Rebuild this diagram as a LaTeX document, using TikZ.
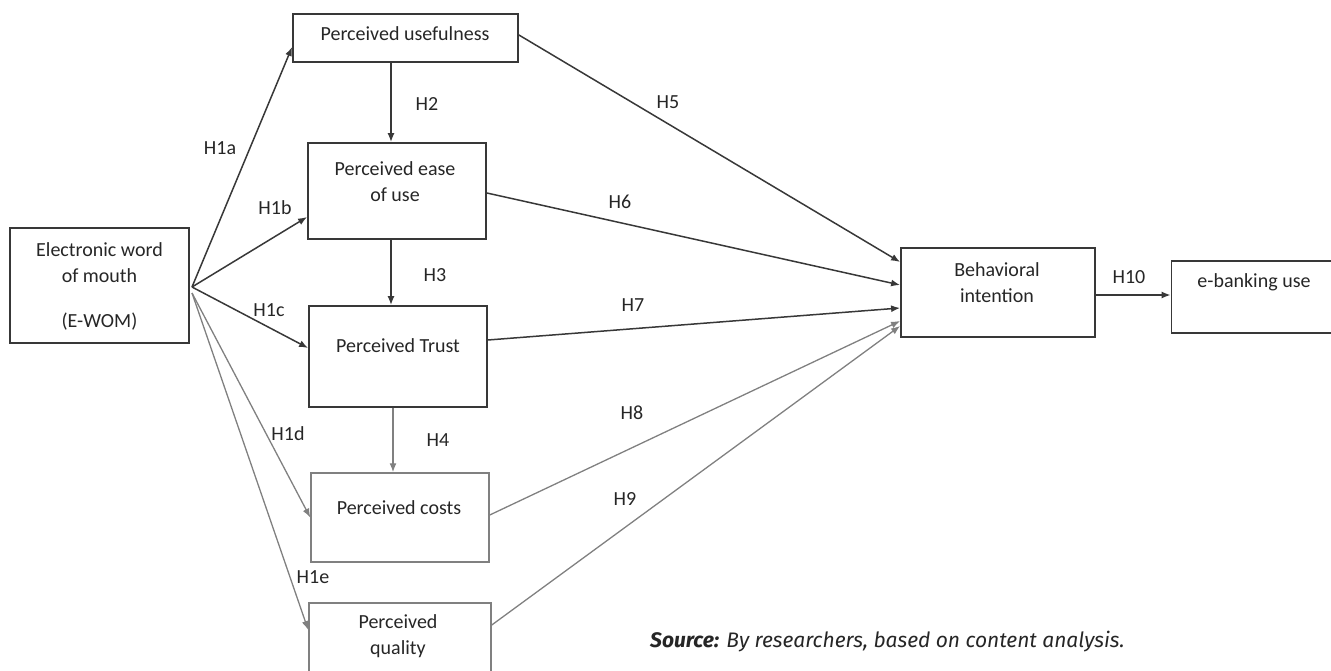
\documentclass[tikz,border=0pt]{standalone}
\usepackage{fontspec}
\setmainfont{Carlito}
\newfontfamily\srcfont{Fira Sans}
\usetikzlibrary{arrows.meta}
\definecolor{dk}{gray}{0.22}
\definecolor{lt}{gray}{0.5}
\begin{document}
\begin{tikzpicture}[x=1pt,y=-1pt,
  box/.style={draw=dk, line width=1.8pt, inner sep=0pt},
  gbox/.style={draw=lt, line width=1.5pt, inner sep=0pt},
  txt/.style={font=\fontsize{20}{26}\selectfont, text=black!85, align=center, inner sep=0pt},
  arr/.style={draw=dk, line width=1.5pt, -{Latex[length=9pt,width=7pt]}},
  garr/.style={draw=lt, line width=1.3pt, -{Latex[length=9pt,width=7pt]}}]
\useasboundingbox (0,0) rectangle (1331,671);
\clip (0,0) rectangle (1331,671);
% boxes
\node[box, minimum width=225pt, minimum height=48pt] (pu) at (405.5,38) {};
\node[box, minimum width=178pt, minimum height=96pt] (peou) at (397,191) {};
\node[box, minimum width=179pt, minimum height=115pt] (ewom) at (99.5,285.5) {};
\node[box, minimum width=178pt, minimum height=101pt] (pt) at (398,356.5) {};
\node[gbox, minimum width=178pt, minimum height=89pt] (pc) at (400,517.5) {};
\node[gbox, minimum width=182pt, minimum height=100pt] (pq) at (400,653) {};
\node[box, minimum width=194pt, minimum height=89pt] (bi) at (998,292.5) {};
\node[box, minimum width=173pt, minimum height=72pt] (eb) at (1258,297) {};
% box texts
\node[txt] (tpu) at (405,34) {Perceived usefulness};
\node[txt] (tpeou) at (395,182) {Perceived ease\\of use};
\node[txt] (tewom) at (99.5,286.5) {Electronic word\\of mouth\\[19pt](E-WOM)};
\node[txt] (tpt) at (398,346) {Perceived Trust};
\node[txt] (tpc) at (399,508) {Perceived costs};
\node[txt] (tpq) at (398,636) {Perceived\\quality};
\node[txt] (tbi) at (997,283) {Behavioral\\intention};
\node[txt] (teb) at (1254,282) {e-banking use};
% fan coordinates
\coordinate (fan) at (192,287);
\coordinate (fan2) at (192,293);
% connectors
\draw[arr] (fan) -- ([yshift=-9pt]pu.west);
\draw[arr] (fan) -- ([yshift=-26pt]peou.west);
\draw[arr] (fan) -- ([yshift=8.5pt]pt.west);
\draw[garr] (fan2) -- (pc.west);
\draw[garr] (fan2) -- ([yshift=23pt]pq.west);
\draw[arr] ([xshift=-14.5pt]pu.south) -- ([xshift=-14.5pt]pu.south |- peou.north);
\draw[arr] ([xshift=-6pt]peou.south) -- ([xshift=-6pt]peou.south |- pt.north);
\draw[garr] ([xshift=-5pt]pt.south) -- ([xshift=-5pt]pt.south |- pc.north);
\draw[arr] ([yshift=3pt]pu.east) -- ([yshift=30.5pt]bi.west);
\draw[arr] ([yshift=-2pt]peou.east) -- ([yshift=7.5pt]bi.west);
\draw[arr] ([yshift=16.5pt]pt.east) -- ([yshift=-15.5pt]bi.west);
\draw[garr] ([yshift=2.5pt]pc.east) -- ([yshift=-28.5pt]bi.west);
\draw[garr] ([yshift=28pt]pq.east) -- ([yshift=-33.5pt]bi.west);
\draw[arr] ([yshift=-2.5pt]bi.east) -- ([yshift=-2.5pt]bi.east -| eb.west);
% hypothesis labels
\node[txt] (h1a) at (220,148) {H1a};
\node[txt] (h1b) at (275,208) {H1b};
\node[txt] (h1c) at (269,310) {H1c};
\node[txt] (h1d) at (288,434) {H1d};
\node[txt] (h1e) at (313,577) {H1e};
\node[txt] (h2) at (427,104) {H2};
\node[txt] (h3) at (435,275) {H3};
\node[txt] (h4) at (438,440) {H4};
\node[txt] (h5) at (668,102) {H5};
\node[txt] (h6) at (620,202) {H6};
\node[txt] (h7) at (633,305) {H7};
\node[txt] (h8) at (632,413) {H8};
\node[txt] (h9) at (625,499) {H9};
\node[txt] (h10) at (1129,277) {H10};
% source
\node[anchor=west, inner sep=0pt, font=\srcfont\fontsize{21}{25}\selectfont\itshape, text=black!85] (src) at (650,642) {\textbf{Source:} By researchers, based on content analysis.};
\end{tikzpicture}
\end{document}
